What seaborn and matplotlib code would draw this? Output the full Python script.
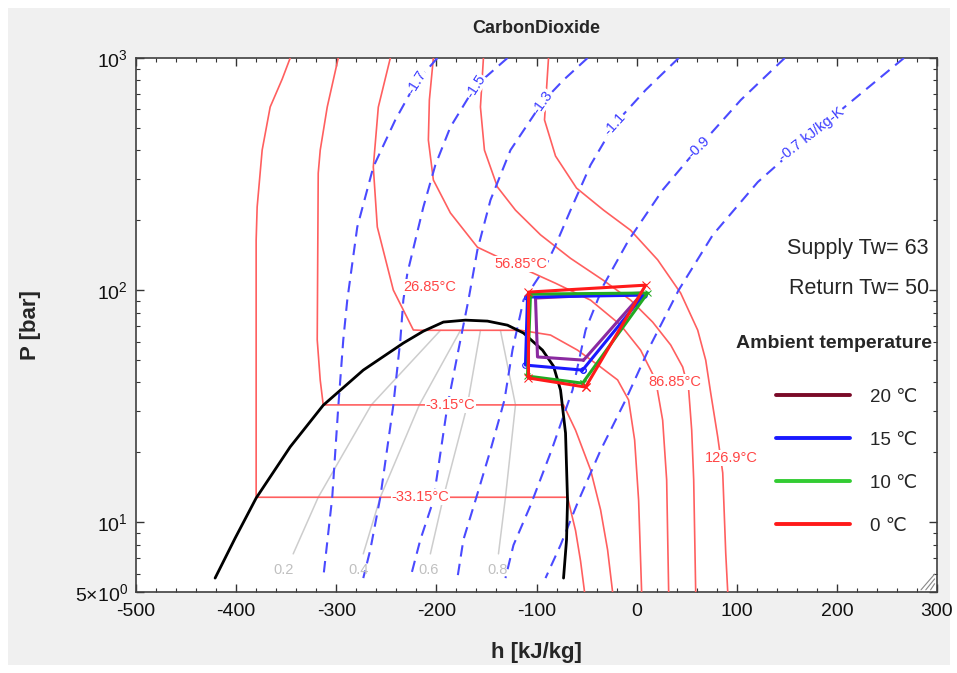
import matplotlib
matplotlib.use("Agg")
import matplotlib.pyplot as plt
import numpy as np
import pandas as pd
import seaborn as sns
from matplotlib.patches import Rectangle
from matplotlib.lines import Line2D
from matplotlib.ticker import MultipleLocator, LogLocator, NullFormatter, FixedLocator

# ---------------- data (h [kJ/kg], P [bar]) ----------------
dome_h = [-421, -401, -380, -346, -313, -273, -233, -213, -193, -171, -149, -129, -113, -94, -83, -76, -71, -69, -70, -73]
dome_P = [5.74, 8.53, 12.7, 21.1, 31.9, 45.2, 59.1, 66.5, 72.8, 74.2, 73.5, 70.6, 65.3, 55.1, 47.0, 37.1, 24.2, 12.4, 8.4, 5.74]

# isotherms
iso_m33_h = [-346, -354, -366, -374, -379, -380, -380, -69, -61, -56, -52]
iso_m33_P = [1000, 811, 615, 401, 228, 164, 12.8, 12.8, 9.2, 6.8, 5.0]
iso_m3_h = [-298, -309, -316, -318, -319, -316, -313, -73, -61, -46, -36, -29, -24]
iso_m3_P = [1000, 615, 401, 319, 61, 40.9, 32.0, 32.0, 24.9, 16.8, 11.3, 7.6, 5]
iso_27_h = [-246, -258, -263, -259, -243, -223, -216, -116, -86, -59, -36, -19, -8, -2, 2, 5]
iso_27_P = [1000, 614, 339, 187, 100, 67.3, 67.1, 67.1, 64.0, 55.1, 46.6, 41.0, 33.6, 22.6, 12.4, 5]
iso_57_h = [-203, -207, -208, -203, -186, -159, -126, -81, -46, -16, 4, 19, 26, 30, 32]
iso_57_P = [1000, 659, 443, 298, 215, 153, 131, 107, 90.5, 70.7, 55.1, 41.0, 27.5, 15.2, 5]
iso_87_h = [-153, -156, -152, -139, -121, -96, -66, -33, -6, 16, 34, 46, 52, 55, 57, 59]
iso_87_P = [1000, 615, 401, 278, 221, 173, 137, 110, 90.5, 72.8, 58.0, 46.6, 37.1, 24.9, 15.2, 5]
iso_127_h = [-88, -92, -81, -60, -33, -6, 21, 44, 61, 69, 74, 81, 86, 89, 91]
iso_127_P = [1000, 541, 378, 275, 221, 181, 135, 97, 67.2, 49.9, 36.0, 23.3, 16.3, 7.35, 5]
iso_labels = ["-33.15°C", "-3.15°C", "26.85°C", "56.85°C", "86.85°C", "126.9°C"]
iso_label_h = [-216, -186, -207, -116, 38, 95]
iso_label_P = [12.8, 32.0, 103, 130, 40.1, 18.9]

# isentropes
s17_h = [-199, -220, -241, -263, -279, -289, -293, -298, -304, -313]
s17_P = [1000, 788, 541, 339, 187, 90.5, 60.9, 31.3, 12.8, 5.74]
s15_h = [-129, -161, -186, -201, -213, -229, -233, -236, -243, -256, -266, -273]
s15_P = [1000, 757, 504, 346, 228, 118, 90.5, 60.9, 31.9, 12.8, 7.6, 5.74]
s13_h = [-49, -73, -94, -126, -146, -159, -168, -178, -189, -203, -216, -226]
s13_P = [1000, 804, 646, 401, 244, 149, 90.5, 55.1, 31.6, 12.4, 8.4, 5.74]
s11_h = [42, 9, -22, -46, -66, -81, -93, -113, -124, -132, -146, -161, -173, -179]
s11_P = [1000, 728, 519, 346, 221, 156, 122, 90.5, 55.1, 33.6, 20.4, 12.4, 8.4, 5.74]
s09_h = [148, 104, 62, 26, -8, -33, -51, -64, -85, -106, -123, -131]
s09_P = [1000, 659, 413, 270, 164, 105, 67.2, 37.1, 20.4, 11.8, 7.96, 5.74]
s07_h = [267, 175, 121, 76, 42, 14, -11, -36, -58, -76, -91]
s07_P = [1000, 470, 292, 172.6, 100, 58.0, 33.6, 20.4, 12.4, 7.96, 5.74]
s_labels = ["-1.7", "-1.5", "-1.3", "-1.1", "-0.9", "-0.7 kJ/kg-K"]
s_label_h = [-220, -161, -94, -22, 62, 175]
s_label_P = [788, 757, 646, 519, 413, 470]
s_label_rot = [58, 57, 54, 48, 44, 38]

# quality lines
qual_P = [67, 32, 12.8, 7.3]
q02_h = [-196, -265, -318, -343]
q04_h = [-176, -217, -256, -273]
q06_h = [-156, -169, -193, -206]
q08_h = [-136, -121, -131, -138]
q_labels = ["0.2", "0.4", "0.6", "0.8"]
q_label_h = [-353, -278, -208, -139]
q_label_P = [6.2, 6.2, 6.2, 6.2]

# heat pump cycles (ambient 20, 15, 10, 0 degC)
cyc20_h = [-53, 6, -101, -99, -53]
cyc20_P = [49.9, 97.1, 92.4, 51.5, 49.9]
cyc15_h = [-54, 7, -109, -111, -54]
cyc15_P = [45.2, 95.1, 93.3, 47.5, 45.2]
cyc10_h = [-54, 11, -106, -109, -54]
cyc10_P = [39.7, 97.1, 96.1, 42.6, 39.7]
cyc0_h = [-51, 9, -108, -108, -51]
cyc0_P = [38.2, 105, 98, 41.8, 38.2]
amb_labels = ["20 \u2103", "15 \u2103", "10 \u2103", "0 \u2103"]

xticks = [-500, -400, -300, -200, -100, 0, 100, 200, 300]
yticks = [5, 10, 100, 1000]
ytick_labels = [r"$5{\times}10^0$", r"$10^1$", r"$10^2$", r"$10^3$"]

# ---------------- style ----------------
sns.set_theme(style="white")
plt.rcParams["font.family"] = ["Liberation Sans", "DejaVu Sans"]
plt.rcParams["mathtext.fontset"] = "custom"
plt.rcParams["mathtext.rm"] = "Liberation Sans"
plt.rcParams["mathtext.default"] = "regular"

W, H = 957, 673
fig = plt.figure(figsize=(W / 100, H / 100), dpi=100, facecolor="white")
fig.patches.append(Rectangle((8 / W, 8 / H), 942 / W, 657 / H, transform=fig.transFigure,
                             facecolor="#f0f0f0", edgecolor="none", zorder=-10))
ax = fig.add_axes([136 / W, 1 - 592 / H, (937 - 136) / W, (592 - 58) / H])
ax.set_facecolor("white")
ax.set_yscale("log")


def draw(h, P, **kw):
    df = pd.DataFrame({"h": h, "P": P})
    sns.lineplot(data=df, x="h", y="P", sort=False, estimator=None, errorbar=None,
                 ax=ax, legend=False, **kw)


RED = "#ff5f5f"
BLUE = "#4a4aff"
GRAY = "#cdcdcd"

for h, P in [(q02_h, qual_P), (q04_h, qual_P), (q06_h, qual_P), (q08_h, qual_P)]:
    draw(h, P, color=GRAY, linewidth=1.1, zorder=2)

for h, P in [(iso_m33_h, iso_m33_P), (iso_m3_h, iso_m3_P), (iso_27_h, iso_27_P),
             (iso_57_h, iso_57_P), (iso_87_h, iso_87_P), (iso_127_h, iso_127_P)]:
    draw(h, P, color=RED, linewidth=1.2, zorder=3)

for h, P in [(s17_h, s17_P), (s15_h, s15_P), (s13_h, s13_P), (s11_h, s11_P),
             (s09_h, s09_P), (s07_h, s07_P)]:
    draw(h, P, color=BLUE, linewidth=1.5, linestyle=(0, (5.5, 3.5)), zorder=3)

draw(dome_h, dome_P, color="black", linewidth=2.0, zorder=4)

# labels
for t, h, P in zip(iso_labels, iso_label_h, iso_label_P):
    ax.text(h, P, t, color="#ff4545", fontsize=10.5, ha="center", va="center", zorder=5,
            bbox=dict(facecolor="white", edgecolor="none", pad=0.6))
for t, h, P, r in zip(s_labels, s_label_h, s_label_P, s_label_rot):
    ax.text(h, P, t, color="#3c3cff", fontsize=10.5, ha="center", va="center", rotation=r,
            rotation_mode="anchor", zorder=5,
            bbox=dict(facecolor="white", edgecolor="none", pad=0.3))
for t, h, P in zip(q_labels, q_label_h, q_label_P):
    ax.text(h, P, t, color="#c0c0c0", fontsize=10.5, ha="center", va="center", zorder=5)

# cycles
draw(cyc20_h, cyc20_P, color="#8a2aa0", linewidth=2.2, zorder=6)
draw(cyc15_h, cyc15_P, color="#1a1aff", linewidth=2.2, zorder=7, marker="o", markersize=4,
     markerfacecolor="none", markeredgecolor="#1a1aff")
draw(cyc10_h, cyc10_P, color="#22aa22", linewidth=2.2, zorder=8, marker="x", markersize=5,
     markeredgecolor="#22aa22")
draw(cyc0_h, cyc0_P, color="#ff1a1a", linewidth=2.2, zorder=9, marker="x", markersize=6,
     markeredgecolor="#ff1a1a")

# axes cosmetics
ax.set_xlim(-500, 300)
ax.set_ylim(5, 1000)
ax.set_xticks(xticks)
ax.set_xticklabels([str(v) for v in xticks])
ax.xaxis.set_minor_locator(MultipleLocator(20))
ax.yaxis.set_major_locator(FixedLocator(yticks))
ax.set_yticklabels(ytick_labels)
ax.yaxis.set_minor_locator(LogLocator(base=10, subs=np.arange(2, 10)))
ax.yaxis.set_minor_formatter(NullFormatter())
ax.tick_params(which="both", direction="in", top=True, right=True, bottom=True, left=True,
               colors="#333333", labelcolor="#111111")
ax.tick_params(which="major", length=6, width=1, labelsize=14)
ax.tick_params(axis="x", which="major", pad=8)
ax.tick_params(axis="y", which="major", pad=6)
ax.tick_params(which="minor", length=3, width=0.8)
for sp in ax.spines.values():
    sp.set_color("#404040")
    sp.set_linewidth(1.2)
ax.set_xlabel("h [kJ/kg]", fontsize=16, fontweight="bold", labelpad=16)
ax.set_ylabel("P [bar]", fontsize=16, fontweight="bold", labelpad=24)
ax.set_title("CarbonDioxide", fontsize=13, fontweight="bold", pad=18)

# annotations
ax.text(0.99, 0.644, "Supply Tw= 63", transform=ax.transAxes, fontsize=15.5, ha="right", va="center")
ax.text(0.99, 0.569, "Return Tw= 50", transform=ax.transAxes, fontsize=15.5, ha="right", va="center")
ax.text(0.9935, 0.466, "Ambient temperature", transform=ax.transAxes, fontsize=14,
        fontweight="bold", ha="right", va="center")

handles = [Line2D([], [], color=c, linewidth=2.8) for c in ["#7a0a28", "#1a1aff", "#33cc33", "#ff1a1a"]]
leg = ax.legend(handles, amb_labels, loc="upper right",
                bbox_to_anchor=(0.985, 0.395), frameon=False, fontsize=13.5,
                handlelength=3.9, handletextpad=1.1, labelspacing=1.38, alignment="right",
                borderaxespad=0.0)

# window resize grip (decoration in the lower-right corner)
for k in range(3):
    off = 0.006 + 0.006 * k
    ax.add_line(Line2D([1 - off - 0.002, 0.997], [0.004, 0.004 + (off + 0.002 - 0.003) * 801 / 534 + 0.004],
                       transform=ax.transAxes, color="#888888", linewidth=0.8, zorder=10))

fig.savefig("out.png", dpi=100, facecolor=fig.get_facecolor())
